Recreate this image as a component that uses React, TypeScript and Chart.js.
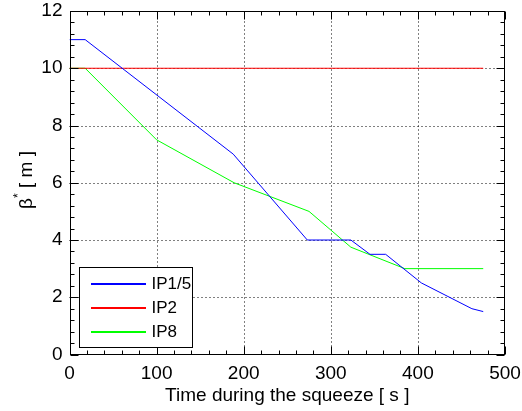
import React, { useEffect, useRef } from "react";
import { Chart, registerables } from "chart.js";

Chart.register(...registerables);

// ---- data ----
const seriesLabels = ["IP1/5", "IP2", "IP8"];
const seriesColors = ["#0000ff", "#ff0000", "#00ff00"];
const ip15X = [0, 18, 188, 273, 323, 345, 363, 404, 462, 475];
const ip15Y = [11, 11, 7, 4, 4, 3.5, 3.5, 2.5, 1.6, 1.5];
const ip2X = [0, 475];
const ip2Y = [10, 10];
const ip8X = [0, 18, 100, 189, 275, 323, 385, 475];
const ip8Y = [10, 10, 7.5, 6, 5, 3.75, 3, 3];
const xMin = 0, xMax = 500, xStep = 100, xMinorStep = 20;
const yMin = 0, yMax = 12, yStep = 2, yMinorStep = 0.4;
const xTitle = "Time during the squeeze [ s ]";
const yTitleMain = "β";
const yTitleSup = "*";
const yTitleRest = " [ m ]";

const FONT = "'Liberation Sans', Arial, Helvetica, sans-serif";

const toPts = (xs: number[], ys: number[]) => xs.map((x, i) => ({ x, y: ys[i] }));

const matlabPlugin = {
  id: "matlabFrame",
  beforeDatasetsDraw(chart: any) {
    const { ctx, chartArea: a, scales } = chart;
    const xs = scales.x, ys = scales.y;
    ctx.save();
    ctx.strokeStyle = "#000";
    ctx.lineWidth = 1;
    ctx.setLineDash([1, 3]);
    for (let v = xMin + xStep; v < xMax; v += xStep) {
      const px = Math.round(xs.getPixelForValue(v)) + 0.5;
      ctx.beginPath();
      ctx.moveTo(px, a.bottom);
      ctx.lineTo(px, a.top);
      ctx.stroke();
    }
    for (let v = yMin + yStep; v < yMax; v += yStep) {
      const py = Math.round(ys.getPixelForValue(v)) + 0.5;
      ctx.beginPath();
      ctx.moveTo(a.left, py);
      ctx.lineTo(a.right, py);
      ctx.stroke();
    }
    ctx.restore();
  },
  afterDatasetsDraw(chart: any) {
    const { ctx, chartArea: a, scales } = chart;
    const xs = scales.x, ys = scales.y;
    const L = Math.round(a.left) + 0.5, R = Math.round(a.right) - 0.5;
    const T = Math.round(a.top) + 0.5, B = Math.round(a.bottom) - 0.5;
    ctx.save();
    ctx.strokeStyle = "#000";
    ctx.lineWidth = 1;
    ctx.setLineDash([]);
    ctx.strokeRect(L, T, R - L, B - T);
    const major = 8, minor = 4;
    for (let i = 0; xMin + i * xMinorStep <= xMax + 1e-9; i++) {
      const v = xMin + i * xMinorStep;
      const len = Math.abs(v / xStep - Math.round(v / xStep)) < 1e-6 ? major : minor;
      const px = Math.round(xs.getPixelForValue(v)) + 0.5;
      ctx.beginPath();
      ctx.moveTo(px, B); ctx.lineTo(px, B - len);
      ctx.moveTo(px, T); ctx.lineTo(px, T + len);
      ctx.stroke();
    }
    for (let i = 0; yMin + i * yMinorStep <= yMax + 1e-9; i++) {
      const v = yMin + i * yMinorStep;
      const len = Math.abs(v / yStep - Math.round(v / yStep)) < 1e-6 ? major : minor;
      const py = Math.round(ys.getPixelForValue(v)) + 0.5;
      ctx.beginPath();
      ctx.moveTo(L, py); ctx.lineTo(L + len, py);
      ctx.moveTo(R, py); ctx.lineTo(R - len, py);
      ctx.stroke();
    }
    // legend
    const lx = 79.5, ly = 267.5, lw = 113, lh = 80;
    ctx.fillStyle = "#fff";
    ctx.fillRect(lx, ly, lw, lh);
    ctx.strokeStyle = "#000";
    ctx.strokeRect(lx, ly, lw, lh);
    ctx.font = `17px ${FONT}`;
    ctx.textBaseline = "middle";
    ctx.textAlign = "left";
    for (let i = 0; i < seriesLabels.length; i++) {
      const yy = Math.round(ly + 15 + i * 24);
      ctx.fillStyle = seriesColors[i];
      ctx.fillRect(Math.round(lx + 11), yy, 55, 2);
      ctx.fillStyle = "#000";
      ctx.fillText(seriesLabels[i], lx + 72, yy + 1);
    }
    // y title
    ctx.translate(27, 180);
    ctx.rotate(-Math.PI / 2);
    ctx.fillStyle = "#000";
    ctx.textBaseline = "middle";
    ctx.font = `19px ${FONT}`;
    const w1 = ctx.measureText(yTitleMain).width;
    const w3 = ctx.measureText(yTitleRest).width;
    ctx.font = `12px ${FONT}`;
    const w2 = ctx.measureText(yTitleSup).width;
    let sx = -(w1 + w2 + w3) / 2;
    ctx.font = `19px ${FONT}`;
    ctx.fillText(yTitleMain, sx, 0);
    sx += w1;
    ctx.font = `12px ${FONT}`;
    ctx.fillText(yTitleSup, sx, -8);
    sx += w2;
    ctx.font = `19px ${FONT}`;
    ctx.fillText(yTitleRest, sx, 0);
    ctx.restore();
  },
};

export default function App() {
  const ref = useRef<HTMLCanvasElement | null>(null);
  useEffect(() => {
    document.body.style.margin = "0";
    const canvas = ref.current!;
    const chart = new Chart(canvas, {
      type: "line",
      data: {
        datasets: [
          { label: seriesLabels[0], data: toPts(ip15X, ip15Y), borderColor: seriesColors[0], backgroundColor: seriesColors[0], borderWidth: 1, pointRadius: 0, tension: 0 },
          { label: seriesLabels[1], data: toPts(ip2X, ip2Y), borderColor: seriesColors[1], backgroundColor: seriesColors[1], borderWidth: 1, pointRadius: 0, tension: 0 },
          { label: seriesLabels[2], data: toPts(ip8X, ip8Y), borderColor: seriesColors[2], backgroundColor: seriesColors[2], borderWidth: 1, pointRadius: 0, tension: 0 },
        ],
      },
      options: {
        responsive: false,
        animation: false,
        devicePixelRatio: 1,
        layout: { padding: { top: 11, right: 17, left: 0, bottom: 0 } },
        plugins: { legend: { display: false }, tooltip: { enabled: false } },
        scales: {
          x: {
            type: "linear",
            min: xMin,
            max: xMax,
            grid: { display: false, drawTicks: false },
            border: { display: false },
            ticks: { stepSize: xStep, color: "#000", padding: 8, maxRotation: 0, font: { family: FONT, size: 19 } },
            title: { display: true, text: xTitle, color: "#000", padding: { top: 0, bottom: 4 }, font: { family: FONT, size: 19 } },
            afterFit: (s: any) => { s.height = 56.5; s.paddingLeft = 0; s.paddingRight = 0; },
          },
          y: {
            type: "linear",
            min: yMin,
            max: yMax,
            grid: { display: false, drawTicks: false },
            border: { display: false },
            ticks: { stepSize: yStep, color: "#000", padding: 7, font: { family: FONT, size: 19 } },
            afterFit: (s: any) => { s.width = 69.5; s.paddingTop = 0; s.paddingBottom = 0; },
          },
        },
      },
      plugins: [matlabPlugin],
    } as any);
    return () => chart.destroy();
  }, []);
  return (
    <div style={{ width: 522, height: 411 }}>
      <canvas ref={ref} width={522} height={411} style={{ display: "block", width: 522, height: 411 }} />
    </div>
  );
}
